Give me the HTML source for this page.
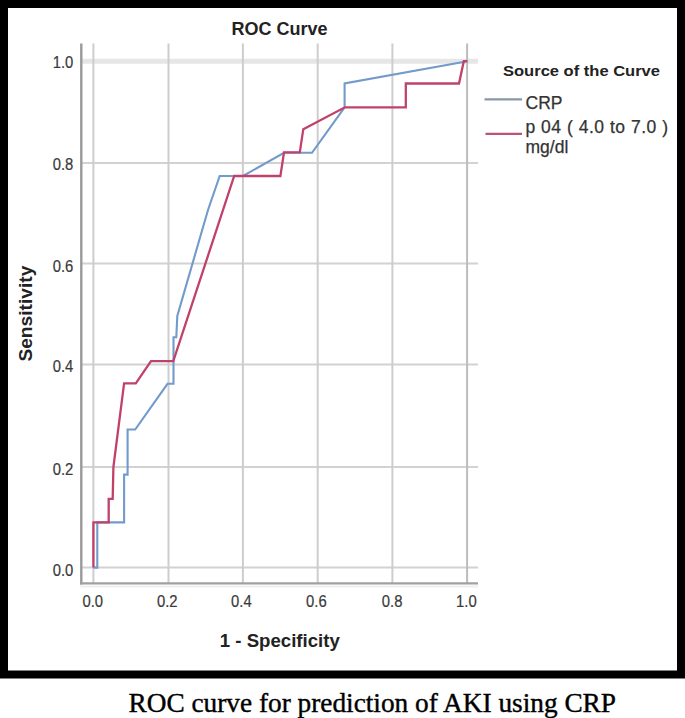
<!DOCTYPE html>
<html>
<head>
<meta charset="utf-8">
<style>
html,body{margin:0;padding:0;background:#fff;}
body{width:685px;height:718px;overflow:hidden;position:relative;}
svg{position:absolute;left:0;top:0;display:block;}
.s{font-family:"Liberation Sans",sans-serif;}
.cap{font-family:"Liberation Serif",serif;}
</style>
</head>
<body>
<svg width="685" height="718" viewBox="0 0 685 718">
  <!-- frame -->
  <rect x="0" y="0" width="685" height="678.5" fill="#000"/>
  <rect x="8" y="8" width="669" height="662.5" fill="#fff"/>

  <!-- horizontal gridlines -->
  <g stroke="#d2d2d2" stroke-width="2" fill="none">
    <line x1="81" y1="567.6" x2="478" y2="567.6"/>
    <line x1="81" y1="467.0" x2="478" y2="467.0"/>
    <line x1="81" y1="364.5" x2="478" y2="364.5"/>
    <line x1="81" y1="263.5" x2="478" y2="263.5"/>
    <line x1="81" y1="163.0" x2="478" y2="163.0"/>
  </g>
  <line x1="81" y1="61.2" x2="478" y2="61.2" stroke="#e6e6e6" stroke-width="5"/>
  <!-- vertical gridlines -->
  <g stroke="#cdcdcd" stroke-width="2" fill="none">
    <line x1="93.4" y1="43.5" x2="93.4" y2="583.4"/>
    <line x1="168.5" y1="43.5" x2="168.5" y2="583.4"/>
    <line x1="242.9" y1="43.5" x2="242.9" y2="583.4"/>
    <line x1="317.7" y1="43.5" x2="317.7" y2="583.4"/>
    <line x1="392.4" y1="43.5" x2="392.4" y2="583.4"/>
  </g>
  <line x1="467.1" y1="43.5" x2="467.1" y2="583.4" stroke="#bcbcbc" stroke-width="2"/>
  <!-- axes -->
  <line x1="80.3" y1="586.6" x2="478" y2="586.6" stroke="#efefef" stroke-width="2"/>
  <line x1="81.3" y1="43.5" x2="81.3" y2="584.6" stroke="#9a9a9a" stroke-width="2.4"/>
  <line x1="80.1" y1="583.4" x2="478" y2="583.4" stroke="#a0a0a0" stroke-width="2.3"/>

  <!-- CRP curve (blue) -->
  <polyline fill="none" stroke="#729acb" stroke-width="2.1" stroke-linejoin="miter"
    points="93.4,567.6 97.3,567.6 97.3,522.4 124.1,522.4 124.1,474.6 127.6,474.6 127.6,429.5 135.2,429.5 167.5,383.8 173.5,383.8 173.5,337.2 176.3,337.2 177.3,316 208,210 219.7,176.0 243,176.0 284,152.8 312,152.8 344.6,107.3 344.6,83.5 467.4,61.2"/>
  <!-- p04 curve (red) -->
  <polyline fill="none" stroke="#c0426b" stroke-width="2.3" stroke-linejoin="miter"
    points="93.4,567.6 93.4,522.4 108.7,522.4 108.7,498.8 112.7,498.8 113.4,467 124.1,383.3 135.8,383.3 151,361.2 173.3,361.2 234.2,176.0 280.4,176.0 284,152.4 299.8,152.4 303.3,129.2 344.9,107.3 405.8,107.3 405.8,83.5 459,83.5 463.8,61.2 467.4,61.2"/>

  <!-- title -->
  <text class="s" x="279.6" y="34.8" font-size="18.5" font-weight="bold" fill="#222" text-anchor="middle" textLength="96" lengthAdjust="spacingAndGlyphs">ROC Curve</text>

  <!-- y tick labels -->
  <g class="s" font-size="16" fill="#3a3a3a" stroke="#3a3a3a" stroke-width="0.2" text-anchor="end">
    <text x="73.3" y="67.9" textLength="20.6" lengthAdjust="spacingAndGlyphs">1.0</text>
    <text x="73.3" y="170.0" textLength="20.6" lengthAdjust="spacingAndGlyphs">0.8</text>
    <text x="73.3" y="271.9" textLength="20.6" lengthAdjust="spacingAndGlyphs">0.6</text>
    <text x="73.3" y="372.2" textLength="20.6" lengthAdjust="spacingAndGlyphs">0.4</text>
    <text x="73.3" y="475.2" textLength="20.6" lengthAdjust="spacingAndGlyphs">0.2</text>
    <text x="73.3" y="575.5" textLength="20.6" lengthAdjust="spacingAndGlyphs">0.0</text>
  </g>
  <!-- x tick labels -->
  <g class="s" font-size="16" fill="#3a3a3a" stroke="#3a3a3a" stroke-width="0.2" text-anchor="middle">
    <text x="92.8" y="607.2" textLength="20.6" lengthAdjust="spacingAndGlyphs">0.0</text>
    <text x="167.3" y="607.2" textLength="20.6" lengthAdjust="spacingAndGlyphs">0.2</text>
    <text x="241.4" y="607.2" textLength="20.6" lengthAdjust="spacingAndGlyphs">0.4</text>
    <text x="316.4" y="607.2" textLength="20.6" lengthAdjust="spacingAndGlyphs">0.6</text>
    <text x="392.1" y="607.2" textLength="20.6" lengthAdjust="spacingAndGlyphs">0.8</text>
    <text x="466.4" y="607.2" textLength="20.6" lengthAdjust="spacingAndGlyphs">1.0</text>
  </g>

  <!-- axis titles -->
  <text class="s" x="279.8" y="647.2" font-size="19" font-weight="bold" fill="#222" text-anchor="middle" textLength="120" lengthAdjust="spacingAndGlyphs">1 - Specificity</text>
  <text class="s" transform="translate(31.5,313.6) rotate(-90)" font-size="18.5" font-weight="bold" fill="#222" text-anchor="middle" textLength="96" lengthAdjust="spacingAndGlyphs">Sensitivity</text>

  <!-- legend -->
  <text class="s" x="503" y="75.7" font-size="15.5" font-weight="bold" fill="#222" textLength="157" lengthAdjust="spacingAndGlyphs">Source of the Curve</text>
  <line x1="484.5" y1="99.4" x2="522" y2="99.4" stroke="#8797a8" stroke-width="2.2"/>
  <text class="s" x="525.5" y="108.7" font-size="17.5" fill="#333" stroke="#333" stroke-width="0.25">CRP</text>
  <line x1="485.5" y1="133.9" x2="522" y2="133.9" stroke="#bc5479" stroke-width="2.2"/>
  <text class="s" x="525.5" y="133.3" font-size="17.5" fill="#333" stroke="#333" stroke-width="0.25" textLength="142.5" lengthAdjust="spacing">p 04 ( 4.0 to 7.0 )</text>
  <text class="s" x="525.5" y="153.2" font-size="17.5" fill="#333" stroke="#333" stroke-width="0.25">mg/dl</text>

  <!-- caption -->
  <text class="cap" x="128.5" y="711.7" font-size="27.3" fill="#000" stroke="#000" stroke-width="0.4">ROC curve for prediction of AKI using CRP</text>
</svg>
</body>
</html>
